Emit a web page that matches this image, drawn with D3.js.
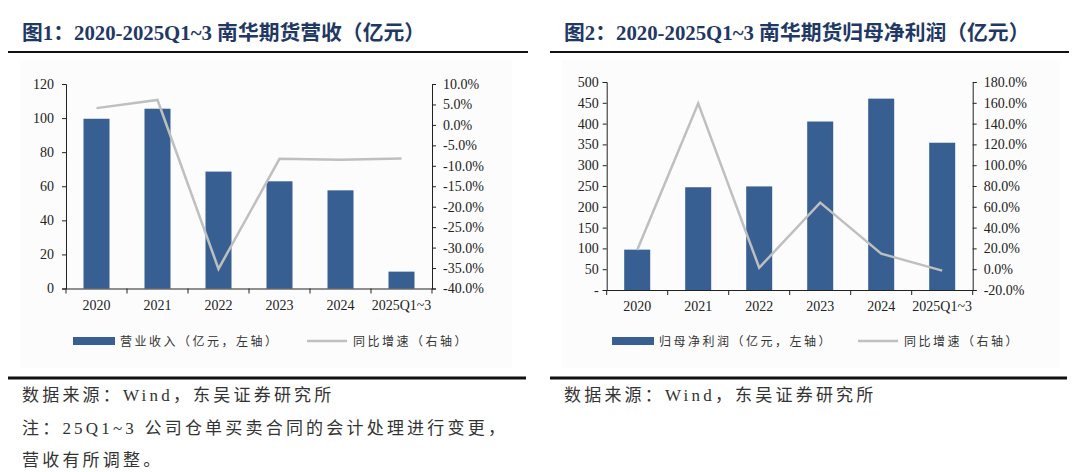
<!DOCTYPE html>
<html>
<head>
<meta charset="utf-8">
<script src="https://cdn.jsdelivr.net/npm/d3@7"></script>
<style>
  body { margin: 0; background: #fff; }
  svg text { font-family: "Liberation Serif", "Noto Sans CJK SC", serif; }
  .tick text { fill: #222; font-size: 14px; }
  .cjk { font-family: "Liberation Serif", "Noto Sans CJK SC", sans-serif; }
</style>
</head>
<body>
<svg id="chart" width="1080" height="472"></svg>
<script>
const years = ["2020", "2021", "2022", "2023", "2024", "2025Q1~3"];

const revenue = [99.6, 105.5, 68.6, 62.9, 57.6, 9.9];
const revenueYoy = [4.1, 6.1, -35.2, -8.3, -8.5, -8.2];

const profit = [97, 247, 249, 405, 460, 354];
const profitYoy = [18.5, 159.5, 1.4, 64.0, 14.9, -1.4];

const revTicks = [0, 20, 40, 60, 80, 100, 120];
const revPctTicks = [10, 5, 0, -5, -10, -15, -20, -25, -30, -35, -40];
const profTicks = [0, 50, 100, 150, 200, 250, 300, 350, 400, 450, 500];
const profPctTicks = [180, 160, 140, 120, 100, 80, 60, 40, 20, 0, -20];

const BAR = "#375f92", LINE = "#bfbfbf", NAVY = "#1f3864";

const svg = d3.select("#chart");

function drawPanel(cfg) {
  const g = svg.append("g");

  // title + rule
  g.append("text")
    .attr("x", cfg.titleX).attr("y", 40)
    .attr("fill", NAVY)
    .style("font-size", "20.8px").style("font-weight", "bold")
    .text(cfg.title);
  g.append("line")
    .attr("x1", cfg.ruleX[0]).attr("x2", cfg.ruleX[1])
    .attr("y1", 52).attr("y2", 52)
    .attr("stroke", "#111").attr("stroke-width", 2);

  // faint panel
  g.append("rect")
    .attr("x", cfg.panel[0]).attr("y", 60)
    .attr("width", cfg.panel[1] - cfg.panel[0]).attr("height", 308)
    .attr("fill", "#fcfcfc");

  const x = d3.scaleBand().domain(years).range([cfg.left, cfg.right]);
  const y = d3.scaleLinear().domain(cfg.yDomain).range([cfg.bottom, cfg.top]);
  const y2 = d3.scaleLinear().domain(cfg.y2Domain).range([cfg.bottom, cfg.top]);

  g.selectAll(".bar")
    .data(cfg.bars)
    .join("rect")
    .attr("x", (d, i) => x(years[i]) + x.bandwidth() / 2 - 13)
    .attr("width", 26)
    .attr("y", d => y(d))
    .attr("height", d => y(0) - y(d))
    .attr("fill", BAR);

  const line = d3.line()
    .x((d, i) => x(years[i]) + x.bandwidth() / 2)
    .y(d => y2(d));
  g.append("path")
    .datum(cfg.yoy)
    .attr("d", line)
    .attr("fill", "none")
    .attr("stroke", LINE)
    .attr("stroke-width", 2.5);

  // axes
  const yl = g.append("g")
    .attr("transform", `translate(${cfg.left},0)`)
    .call(d3.axisLeft(y).tickValues(cfg.yTicks).tickSize(4).tickPadding(cfg.lPad)
      .tickFormat(cfg.yFmt));
  const yr = g.append("g")
    .attr("transform", `translate(${cfg.right},0)`)
    .call(d3.axisRight(y2).tickValues(cfg.y2Ticks).tickSize(4).tickPadding(7)
      .tickFormat(d => d.toFixed(1) + "%"));
  const xa = g.append("g")
    .attr("transform", `translate(0,${cfg.bottom})`)
    .call(d3.axisBottom(x).tickSize(0).tickPadding(14));
  // boundary ticks on x axis
  g.selectAll(".xb")
    .data(d3.range(years.length + 1))
    .join("line")
    .attr("x1", i => cfg.left + i * x.step())
    .attr("x2", i => cfg.left + i * x.step())
    .attr("y1", cfg.bottom).attr("y2", cfg.bottom + 5)
    .attr("stroke", "#222");

  [yl, yr, xa].forEach(a => {
    a.select(".domain").attr("stroke", "#222");
    a.selectAll(".tick line").attr("stroke", "#222");
  });
  xa.selectAll(".tick text").attr("dy", "0.5em");

  // legend
  const lg = g.append("g").attr("class", "cjk");
  lg.append("rect")
    .attr("x", cfg.legX[0]).attr("y", 337)
    .attr("width", 42).attr("height", 8)
    .attr("fill", BAR);
  lg.append("text")
    .attr("x", cfg.legX[0] + 47).attr("y", 345.5)
    .style("font-size", "12px").style("letter-spacing", "2.5px")
    .attr("fill", "#333")
    .text(cfg.legBar);
  lg.append("line")
    .attr("x1", cfg.legX[1]).attr("x2", cfg.legX[1] + 40)
    .attr("y1", 341).attr("y2", 341)
    .attr("stroke", LINE).attr("stroke-width", 2.5);
  lg.append("text")
    .attr("x", cfg.legX[1] + 46).attr("y", 345.5)
    .style("font-size", "12px").style("letter-spacing", "2.5px")
    .attr("fill", "#333")
    .text("同比增速（右轴）");

  // source rule
  g.append("line")
    .attr("x1", cfg.srcRule[0]).attr("x2", cfg.srcRule[1])
    .attr("y1", 378).attr("y2", 378)
    .attr("stroke", "#111").attr("stroke-width", 3);

  g.selectAll(".note")
    .data(cfg.notes)
    .join("text")
    .attr("x", 22)
    .attr("transform", `translate(${cfg.srcRule[0] - 8},0)`)
    .attr("y", (d, i) => 401 + i * 32.5)
    .attr("fill", "#333")
    .style("font-size", "17px").style("letter-spacing", "3.2px")
    .text(d => d);
}

drawPanel({
  title: "图1：2020-2025Q1~3 南华期货营收（亿元）",
  titleX: 22, ruleX: [8, 528], panel: [20, 512],
  left: 66, right: 432, top: 84, bottom: 288.5,
  yDomain: [0, 120], y2Domain: [-40, 10],
  yTicks: revTicks, y2Ticks: revPctTicks, lPad: 8, yFmt: d => d,
  bars: revenue, yoy: revenueYoy,
  legX: [73, 307], legBar: "营业收入（亿元，左轴）",
  srcRule: [8, 526],
  notes: ["数据来源：Wind，东吴证券研究所",
          "注：25Q1~3 公司仓单买卖合同的会计处理进行变更，",
          "营收有所调整。"]
});

drawPanel({
  title: "图2：2020-2025Q1~3 南华期货归母净利润（亿元）",
  titleX: 564, ruleX: [550, 1069], panel: [562, 1060],
  left: 606.7, right: 972.7, top: 82, bottom: 290,
  yDomain: [0, 500], y2Domain: [-20, 180],
  yTicks: profTicks, y2Ticks: profPctTicks, lPad: 4,
  yFmt: d => d === 0 ? "-  " : d,
  bars: profit, yoy: profitYoy,
  legX: [612, 858], legBar: "归母净利润（亿元，左轴）",
  srcRule: [550, 1067],
  notes: ["数据来源：Wind，东吴证券研究所"]
});
</script>
</body>
</html>
